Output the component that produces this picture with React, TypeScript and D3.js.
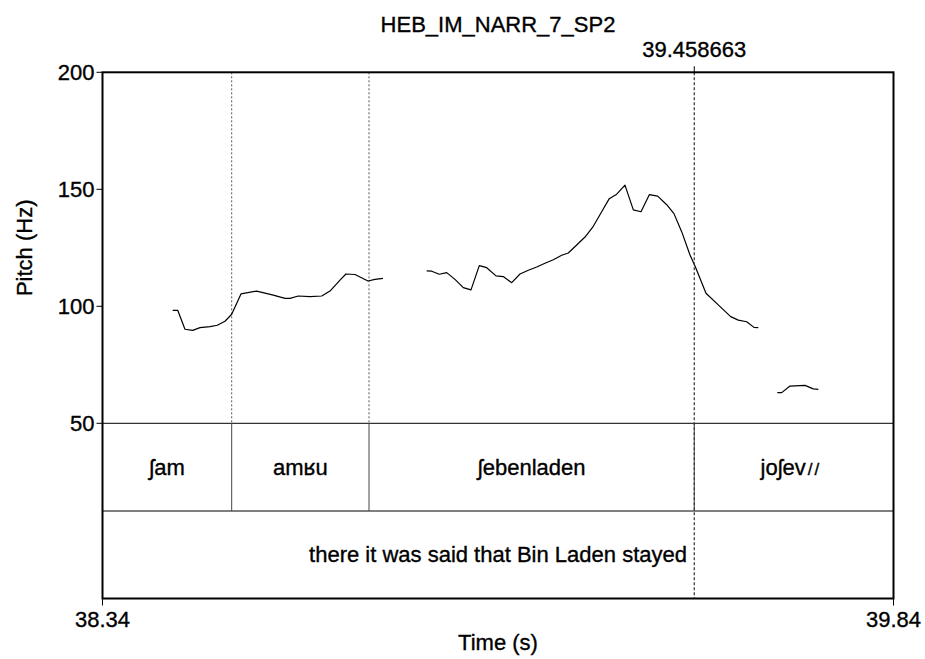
import React from "react";
import * as d3 from "d3";

const title = "HEB_IM_NARR_7_SP2";
const timeDomain: [number, number] = [38.3365, 39.8365];
const timeTickLabels = ["38.34", "39.84"];
const pitchDomain: [number, number] = [50, 200];
const pitchTicks = [50, 100, 150, 200];
const cursorTime = 39.458663;
const cursorLabel = "39.458663";
const xAxisTitle = "Time (s)";
const yAxisTitle = "Pitch (Hz)";

const pitchSeg1: [number, number][] = [
  [38.4696, 98.3], [38.4791, 98.3], [38.4929, 90.2], [38.5075, 89.7], [38.5214, 90.9],
  [38.5404, 91.3], [38.5542, 91.9], [38.5688, 93.6], [38.5815, 96.6], [38.5991, 105.3],
  [38.6289, 106.5], [38.6604, 104.8], [38.6826, 103.4], [38.6921, 103.4], [38.7078, 104.4],
  [38.73, 104.1], [38.7522, 104.4], [38.7679, 106.5], [38.7869, 111.2], [38.7981, 113.8],
  [38.8153, 113.6], [38.84, 110.8], [38.8532, 111.5], [38.8684, 111.9],
];
const pitchSeg2: [number, number][] = [
  [38.9513, 115.1], [38.9608, 115.0], [38.9752, 113.7], [38.9892, 114.4], [39.0049, 111.5],
  [39.0207, 108.0], [39.0353, 107.0], [39.051, 117.4], [39.0651, 116.5], [39.0827, 113.0],
  [39.0965, 112.7], [39.1125, 110.1], [39.1282, 113.8], [39.144, 115.4], [39.1599, 116.8],
  [39.1756, 118.4], [39.1914, 119.9], [39.2073, 121.8], [39.2198, 122.8], [39.2357, 126.2],
  [39.2515, 129.6], [39.2661, 133.8], [39.2831, 140.4], [39.2975, 146.0], [39.3116, 147.9],
  [39.3273, 151.8], [39.3431, 141.2], [39.3577, 140.4], [39.3734, 147.7], [39.3893, 147.1],
  [39.4064, 143.4], [39.4202, 139.6], [39.4348, 131.9], [39.4506, 121.9], [39.4601, 117.2],
  [39.4809, 105.6], [39.5042, 100.6], [39.5277, 95.6], [39.5422, 94.1], [39.5581, 93.4],
  [39.5719, 91.0], [39.5801, 90.9],
];
const pitchSeg3: [number, number][] = [
  [39.6161, 63.1], [39.6245, 63.1], [39.6402, 65.9], [39.6686, 66.2], [39.6844, 64.7],
  [39.6939, 64.5],
];
const pitchSegments = [pitchSeg1, pitchSeg2, pitchSeg3];

const wordBoundaries = [38.5815, 38.8419, 39.458663];
const wordLabels = ["ʃam", "amʁu", "ʃebenladen", "joʃev//"];
const glossBoundaries: number[] = [];
const glossLabels = ["there it was said that Bin Laden stayed"];

const W = 925;
const H = 659;
const L = 102.5;
const R = 893.5;
const T = 72.3;
const PB = 423.3;
const T1B = 511;
const B = 598.5;
const FONT = "'Liberation Sans', Arial, Helvetica, sans-serif";
const FS = 22;
const TEXT_STROKE = { stroke: "#000", strokeWidth: 0.35 };

function renderLabel(s: string) {
  const parts = s.split(/(\/+)/).filter((p) => p.length > 0);
  return parts.map((p, i) =>
    p.startsWith("/") ? (
      <tspan key={i} fontSize={17} dx={2} letterSpacing={2}>{p}</tspan>
    ) : (
      <tspan key={i}>{p}</tspan>
    )
  );
}

export default function App() {
  const x = d3.scaleLinear().domain(timeDomain).range([L, R]);
  const y = d3.scaleLinear().domain(pitchDomain).range([PB, T]);
  const line = d3
    .line<[number, number]>()
    .x((d) => x(d[0]))
    .y((d) => y(d[1]));

  const wordEdges = [timeDomain[0], ...wordBoundaries, timeDomain[1]];
  const glossEdges = [timeDomain[0], ...glossBoundaries, timeDomain[1]];
  const cx = x(cursorTime);

  return (
    <svg width={W} height={H} style={{ position: "absolute", left: 0, top: 0 }} fontFamily={FONT}>
      <rect width={W} height={H} fill="#fff" />
      <g {...TEXT_STROKE}>
        <text x={(L + R) / 2} y={32} textAnchor="middle" fontSize={FS}>{title}</text>
      </g>

      {/* boundary dotted lines in pitch area */}
      {wordBoundaries.slice(0, -1).map((b, i) => (
        <line key={i} x1={x(b)} x2={x(b)} y1={T} y2={PB} stroke="#555" strokeWidth={1} strokeDasharray="2,2" />
      ))}

      {/* pitch contour */}
      {pitchSegments.map((seg, i) => (
        <path key={i} d={line(seg) || ""} fill="none" stroke="#000" strokeWidth={1.2} strokeLinejoin="round" />
      ))}

      {/* tiers */}
      <line x1={L} x2={R} y1={PB} y2={PB} stroke="#000" strokeWidth={1} />
      <line x1={L} x2={R} y1={T1B} y2={T1B} stroke="#000" strokeWidth={1} />
      {wordBoundaries.map((b, i) => (
        <line key={i} x1={x(b)} x2={x(b)} y1={PB} y2={T1B} stroke="#444" strokeWidth={1} />
      ))}
      <g {...TEXT_STROKE}>
        {wordLabels.map((lab, i) => (
          <text key={i} x={(x(wordEdges[i]) + x(wordEdges[i + 1])) / 2 - (i === wordLabels.length - 1 ? 3 : 0)} y={(PB + T1B) / 2} dy="0.35em" textAnchor="middle" fontSize={FS}>
            {renderLabel(lab)}
          </text>
        ))}
        {glossLabels.map((lab, i) => (
          <text key={i} x={(x(glossEdges[i]) + x(glossEdges[i + 1])) / 2} y={(T1B + B) / 2} dy="0.35em" textAnchor="middle" fontSize={FS}>
            {lab}
          </text>
        ))}
      </g>

      {/* cursor */}
      <line x1={cx} x2={cx} y1={T - 6} y2={T} stroke="#000" strokeWidth={1} />
      <line x1={cx} x2={cx} y1={T} y2={B} stroke="#333" strokeWidth={1.2} strokeDasharray="3,2" />
      <g {...TEXT_STROKE}>
        <text x={cx} y={57} textAnchor="middle" fontSize={FS}>{cursorLabel}</text>
      </g>

      {/* frame */}
      <rect x={L} y={T} width={R - L} height={B - T} fill="none" stroke="#000" strokeWidth={2} />

      {/* y axis */}
      {pitchTicks.map((t) => (
        <g key={t}>
          <line x1={L - 6} x2={L} y1={y(t)} y2={y(t)} stroke="#000" strokeWidth={1} />
          <text x={L - 8} y={y(t)} dy="0.36em" textAnchor="end" fontSize={FS} {...TEXT_STROKE}>{t}</text>
        </g>
      ))}
      <text transform={`translate(32,${(T + PB) / 2}) rotate(-90)`} textAnchor="middle" fontSize={FS} {...TEXT_STROKE}>{yAxisTitle}</text>

      {/* x axis */}
      {timeDomain.map((t, i) => (
        <g key={i}>
          <line x1={x(t)} x2={x(t)} y1={B} y2={B + 7} stroke="#000" strokeWidth={1} />
          <text x={x(t)} y={627} textAnchor="middle" fontSize={FS} {...TEXT_STROKE}>{timeTickLabels[i]}</text>
        </g>
      ))}
      <text x={(L + R) / 2} y={650} textAnchor="middle" fontSize={FS} {...TEXT_STROKE}>{xAxisTitle}</text>
    </svg>
  );
}
